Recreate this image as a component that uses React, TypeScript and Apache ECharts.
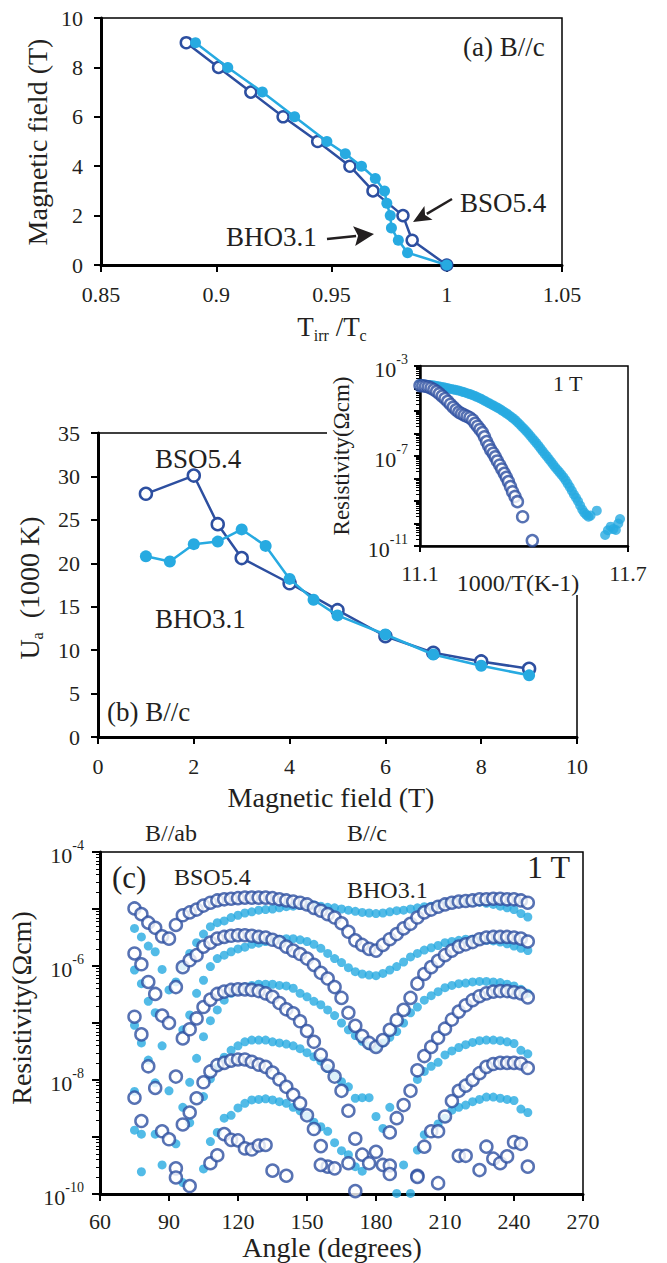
import React, { useEffect, useRef } from 'react';
import * as echarts from 'echarts';

const FONT = 'Liberation Serif';
const DARK = '#2D4FA0';
const LIGHT = '#27AAE1';
const TXT = '#231F20';

// ---------- Panel (a): field vs Tirr/Tc ----------
const fieldA_bso = [9, 8, 7, 6, 5, 4, 3, 2, 1, 0];
const tirrA_bso = [0.887, 0.901, 0.915, 0.929, 0.944, 0.958, 0.968, 0.981, 0.985, 1.0];
const fieldA_bho = [9, 8, 7, 6, 5, 4.5, 4, 3.5, 3, 2.5, 2, 1.5, 1, 0.5, 0];
const tirrA_bho = [0.891, 0.905, 0.92, 0.934, 0.948, 0.956, 0.963, 0.969, 0.973, 0.974, 0.9755, 0.976, 0.979, 0.983, 1.0];

// ---------- Panel (b): Ua vs field ----------
const fieldB_bso = [1, 2, 2.5, 3, 4, 5, 6, 7, 8, 9];
const uaB_bso = [28, 30.1, 24.5, 20.6, 17.7, 14.6, 11.6, 9.7, 8.7, 7.85];
const fieldB_bho = [1, 1.5, 2, 2.5, 3, 3.5, 4, 4.5, 5, 6, 7, 8, 9];
const uaB_bho = [20.8, 20.2, 22.2, 22.5, 23.9, 22.0, 18.2, 15.8, 14.0, 11.8, 9.5, 8.2, 7.1];

// ---------- Inset: log10 resistivity vs 1000/T ----------
const insetBsoX = [11.1, 11.108, 11.116, 11.124, 11.132, 11.14, 11.148, 11.156, 11.164, 11.172, 11.18, 11.188, 11.196, 11.204, 11.212, 11.22, 11.228, 11.236, 11.244, 11.252, 11.259, 11.266, 11.273, 11.28, 11.286, 11.292, 11.298, 11.304, 11.311, 11.317, 11.323, 11.33, 11.336, 11.343, 11.349, 11.355, 11.361, 11.367, 11.374, 11.381, 11.396, 11.424];
const insetBsoLog = [-3.87, -3.88, -3.9, -3.93, -3.98, -4.05, -4.13, -4.23, -4.34, -4.45, -4.57, -4.7, -4.83, -4.95, -5.05, -5.12, -5.18, -5.24, -5.3, -5.4, -5.55, -5.68, -5.82, -5.96, -6.15, -6.36, -6.55, -6.73, -6.88, -7.04, -7.22, -7.4, -7.58, -7.77, -7.95, -8.14, -8.36, -8.59, -8.8, -9.03, -9.7, -10.76];
const insetBhoX = [11.1, 11.106, 11.112, 11.118, 11.124, 11.13, 11.136, 11.142, 11.148, 11.154, 11.16, 11.166, 11.172, 11.178, 11.184, 11.19, 11.196, 11.202, 11.208, 11.214, 11.22, 11.226, 11.232, 11.238, 11.244, 11.25, 11.256, 11.262, 11.268, 11.274, 11.28, 11.286, 11.292, 11.298, 11.304, 11.31, 11.316, 11.322, 11.328, 11.334, 11.34, 11.346, 11.352, 11.358, 11.364, 11.37, 11.376, 11.382, 11.388, 11.394, 11.4, 11.406, 11.412, 11.418, 11.424, 11.43, 11.436, 11.442, 11.448, 11.454, 11.46, 11.466, 11.472, 11.478, 11.484, 11.49, 11.496, 11.502, 11.508, 11.514, 11.52, 11.526, 11.532, 11.538, 11.544, 11.55, 11.556, 11.562, 11.568, 11.574, 11.58, 11.586, 11.592, 11.61, 11.634, 11.642, 11.65, 11.658, 11.665, 11.672, 11.677];
const insetBhoLog = [-3.8, -3.81, -3.82, -3.83, -3.84, -3.85, -3.86, -3.87, -3.89, -3.9, -3.92, -3.94, -3.96, -3.98, -4.0, -4.02, -4.04, -4.06, -4.08, -4.1, -4.13, -4.16, -4.19, -4.22, -4.25, -4.28, -4.32, -4.36, -4.4, -4.44, -4.49, -4.54, -4.59, -4.64, -4.69, -4.74, -4.79, -4.84, -4.89, -4.95, -5.01, -5.07, -5.13, -5.2, -5.27, -5.34, -5.42, -5.51, -5.6, -5.7, -5.79, -5.89, -5.99, -6.1, -6.21, -6.32, -6.43, -6.55, -6.67, -6.79, -6.91, -7.02, -7.14, -7.26, -7.38, -7.5, -7.61, -7.72, -7.83, -7.95, -8.08, -8.23, -8.38, -8.55, -8.71, -8.86, -9.01, -9.2, -9.38, -9.52, -9.62, -9.7, -9.65, -9.43, -10.51, -10.3, -10.14, -10.25, -10.29, -10.0, -9.8];

// ---------- Panel (c): log10 resistivity vs angle ----------
const angleC = [75, 78, 81, 84, 87, 90, 93, 96, 99, 102, 105, 108, 111, 114, 117, 120, 123, 126, 129, 132, 135, 138, 141, 144, 147, 150, 153, 156, 159, 162, 165, 168, 171, 174, 177, 180, 183, 186, 189, 192, 195, 198, 201, 204, 207, 210, 213, 216, 219, 222, 225, 228, 231, 234, 237, 240, 243, 246];
const bsoC1 = [-4.99, -5.09, -5.24, -5.33, -5.48, -5.52, -5.28, -5.11, -5.06, -5.01, -4.94, -4.89, -4.85, -4.83, -4.82, -4.81, -4.8, -4.8, -4.8, -4.8, -4.81, -4.83, -4.85, -4.87, -4.89, -4.92, -4.98, -5.03, -5.09, -5.15, -5.25, -5.4, -5.55, -5.63, -5.7, -5.73, -5.63, -5.53, -5.44, -5.34, -5.26, -5.15, -5.06, -5.01, -4.96, -4.92, -4.89, -4.87, -4.86, -4.85, -4.83, -4.83, -4.82, -4.82, -4.83, -4.83, -4.85, -4.89];
const bsoC2 = [-5.78, -5.97, -6.28, -6.49, -6.87, -7.0, -6.37, -6.02, -5.9, -5.81, -5.66, -5.59, -5.52, -5.49, -5.47, -5.46, -5.46, -5.47, -5.49, -5.5, -5.54, -5.58, -5.66, -5.73, -5.79, -5.87, -5.98, -6.12, -6.22, -6.37, -6.56, -6.82, -7.05, -7.23, -7.35, -7.42, -7.3, -7.12, -6.95, -6.77, -6.56, -6.31, -6.14, -6.02, -5.91, -5.81, -5.73, -5.66, -5.62, -5.58, -5.53, -5.5, -5.49, -5.49, -5.49, -5.5, -5.52, -5.57];
const bsoC3 = [-6.89, -7.2, -7.76, -8.14, -8.9, -9.04, -7.94, -7.27, -7.11, -6.92, -6.72, -6.59, -6.49, -6.45, -6.42, -6.41, -6.41, -6.42, -6.44, -6.48, -6.54, -6.65, -6.76, -6.83, -6.97, -7.14, -7.33, -7.56, -7.75, -7.94, -8.19, -8.54, -9.03, -9.31, -9.46, -9.26, -9.49, -8.92, -8.67, -8.44, -8.19, -7.83, -7.58, -7.42, -7.26, -7.1, -6.94, -6.8, -6.69, -6.6, -6.53, -6.48, -6.45, -6.44, -6.44, -6.46, -6.48, -6.55];
const bsoC4 = [-8.31, -8.72, null, null, null, null, -9.55, -8.78, -8.57, -8.32, -8.04, -7.85, -7.74, -7.7, -7.66, -7.64, -7.64, -7.68, -7.73, -7.77, -7.87, -7.99, -8.12, -8.26, -8.41, -8.62, -8.86, -9.16, -9.52, -9.55, null, -9.46, -9.95, null, null, null, null, -9.5, null, null, null, -9.68, -9.17, -8.9, -8.9, -8.64, -8.37, -8.19, -8.1, -8.0, -7.88, -7.77, -7.72, -7.7, -7.7, -7.7, -7.71, -7.79];
const bsoC5 = [null, null, null, null, null, null, -9.71, null, -9.86, null, null, -9.46, -9.32, -8.95, -9.05, -9.06, -9.2, -9.22, -9.15, -9.14, -9.59, null, -9.68, null, null, null, null, -9.49, null, null, null, null, null, null, null, null, null, -9.65, null, null, null, -9.7, null, null, -9.81, null, null, -9.33, -9.33, null, -9.58, -9.17, -9.38, -9.46, -9.34, -9.09, -9.12, -9.52];
const bhoC1 = [-5.34, -5.49, -5.65, -5.75, -6.06, -6.42, -6.28, -6.0, -5.78, -5.59, -5.44, -5.31, -5.24, -5.21, -5.15, -5.11, -5.07, -5.05, -5.02, -5.01, -5.0, -4.98, -4.96, -4.95, -4.94, -4.93, -4.93, -4.95, -4.97, -4.98, -5.0, -5.02, -5.04, -5.06, -5.07, -5.08, -5.07, -5.05, -5.03, -5.02, -5.0, -4.98, -4.96, -4.95, -4.93, -4.9, -4.89, -4.87, -4.87, -4.88, -4.88, -4.9, -4.92, -4.95, -4.98, -5.01, -5.08, -5.14];
const bhoC2 = [-6.07, -6.31, -6.62, -6.82, -7.4, -8.19, null, -7.12, -6.86, -6.48, -6.25, -6.01, -5.87, -5.81, -5.75, -5.7, -5.67, -5.62, -5.6, -5.57, -5.55, -5.53, -5.52, -5.52, -5.54, -5.57, -5.62, -5.69, -5.78, -5.87, -5.94, -6.03, -6.1, -6.14, -6.16, -6.17, -6.13, -6.07, -6.01, -5.93, -5.84, -5.78, -5.72, -5.68, -5.64, -5.59, -5.57, -5.55, -5.53, -5.53, -5.53, -5.55, -5.56, -5.58, -5.61, -5.65, -5.69, -5.73];
const bhoC3 = [-7.04, -7.35, -7.65, -8.05, -9.49, null, -9.12, -8.48, -8.04, -7.62, -7.24, -6.96, -6.77, -6.6, -6.48, -6.42, -6.37, -6.34, -6.32, -6.32, -6.32, -6.34, -6.35, -6.39, -6.48, -6.54, -6.62, -6.68, -6.77, -6.87, -7.0, -7.12, -7.22, -7.32, -7.4, -7.43, -7.35, -7.25, -7.15, -7.0, -6.82, -6.72, -6.6, -6.52, -6.45, -6.38, -6.34, -6.31, -6.3, -6.28, -6.27, -6.27, -6.28, -6.29, -6.32, -6.35, -6.41, -6.48];
const bhoC4 = [-8.2, -8.95, null, -8.95, null, null, null, -9.8, -8.75, null, -8.29, -7.98, -7.78, -7.6, -7.48, -7.4, -7.33, -7.3, -7.3, -7.3, -7.33, -7.35, -7.37, -7.4, -7.45, -7.52, -7.59, -7.67, -7.8, -7.93, -8.03, -8.12, -8.32, -8.31, -8.31, -8.64, -8.85, -8.48, null, null, null, -7.99, -7.85, -7.76, -7.69, -7.56, -7.49, -7.43, -7.38, -7.34, -7.31, -7.3, -7.3, -7.31, -7.33, -7.36, -7.48, -7.54];
const bhoC5 = [-8.88, -9.61, null, null, null, null, null, null, null, null, -9.56, -9.08, -8.92, -8.67, -8.62, -8.49, -8.41, -8.35, -8.34, -8.33, -8.35, -8.38, -8.41, -8.48, -8.54, -8.63, -8.74, -8.82, -8.9, -9.1, -9.24, -9.31, -9.52, -9.6, null, null, null, null, -9.99, -9.49, -9.99, -9.23, -8.96, null, -8.77, -8.67, -8.53, -8.48, -8.44, -8.38, -8.34, -8.3, -8.3, -8.32, -8.34, -8.36, -8.51, -8.57];

// ---------- helpers ----------
const zip = (xs: number[], ys: number[]) => xs.map((x, i) => [x, ys[i]]);
const zipLog = (xs: number[], ys: number[]) => xs.map((x, i) => [x, Math.pow(10, ys[i])]);
const curvesToPairs = (curves: (number | null)[][]) => {
  const out: number[][] = [];
  curves.forEach((c) => c.forEach((v, i) => { if (v !== null) out.push([angleC[i], Math.pow(10, v)]); }));
  return out;
};

const tickLabel = { fontFamily: FONT, fontSize: 22, color: TXT };
const axisLineThick = { show: true, lineStyle: { color: '#000', width: 3 } };
const tickOut = { show: true, length: 7, lineStyle: { color: '#000', width: 2 } };
const supRich = {
  b: { fontFamily: FONT, fontSize: 22, color: TXT, lineHeight: 28, verticalAlign: 'bottom' },
  s: { fontFamily: FONT, fontSize: 14, color: TXT, lineHeight: 14, verticalAlign: 'top' },
};
const expOf = (v: number) => Math.round(Math.log10(v));

const openDark = { color: '#fff', borderColor: DARK, borderWidth: 2.5 };
const fillLight = { color: LIGHT };

function text(x: number, y: number, t: string, size: number, opts: any = {}) {
  return {
    type: 'text', x, y, z: opts.z ?? 20, rotation: opts.rotation ?? 0,
    style: {
      text: t, fill: TXT, font: `${size}px ${FONT}`,
      textAlign: opts.align ?? 'left', textVerticalAlign: 'middle',
      rich: opts.rich,
    },
  };
}

function arrow(x1: number, y1: number, tx: number, ty: number, len: number, half: number) {
  const dx = tx - x1, dy = ty - y1;
  const L = Math.sqrt(dx * dx + dy * dy);
  const ux = dx / L, uy = dy / L;
  const bx = tx - ux * len, by = ty - uy * len;
  const px = -uy, py = ux;
  return [
    { type: 'line', z: 20, shape: { x1, y1, x2: bx + ux * 2, y2: by + uy * 2 }, style: { stroke: TXT, lineWidth: 2.5 } },
    { type: 'polygon', z: 20, shape: { points: [[tx, ty], [bx + px * half, by + py * half], [bx + ux * 4, by + uy * 4], [bx - px * half, by - py * half]] }, style: { fill: TXT } },
  ];
}

function buildOption() {
  const subRich = (main: number, sub: number) => ({
    n: { fontFamily: FONT, fontSize: main, fill: TXT, color: TXT, lineHeight: main + 4, verticalAlign: 'top' },
    s: { fontFamily: FONT, fontSize: sub, fill: TXT, color: TXT, lineHeight: sub, padding: [Math.round(main * 0.5), 0, 0, 0], verticalAlign: 'top' },
  });

  return {
    animation: false,
    backgroundColor: '#fff',
    grid: [
      { left: 101, top: 18, width: 461, height: 247, show: true, borderColor: '#000', borderWidth: 1.5, z: 0 },
      { left: 98, top: 433, width: 479, height: 304, show: true, borderColor: '#000', borderWidth: 1.5, z: 0 },
      { left: 420, top: 366, width: 208, height: 180, show: true, borderColor: '#000', borderWidth: 1.5, backgroundColor: '#fff', z: 6 },
      { left: 100, top: 852, width: 483, height: 342, show: true, borderColor: '#000', borderWidth: 1.5, z: 0 },
    ],
    xAxis: [
      { gridIndex: 0, type: 'value', min: 0.85, max: 1.05, interval: 0.05, axisLine: axisLineThick, axisTick: tickOut, splitLine: { show: false }, axisLabel: { ...tickLabel, margin: 18 } },
      { gridIndex: 1, type: 'value', min: 0, max: 10, interval: 2, axisLine: axisLineThick, axisTick: tickOut, splitLine: { show: false }, axisLabel: { ...tickLabel, margin: 18 } },
      { gridIndex: 2, type: 'value', min: 11.1, max: 11.7, interval: 0.6, z: 7, axisLine: { show: true, lineStyle: { color: '#000', width: 2.5 } }, axisTick: { show: true, length: 6, lineStyle: { color: '#000', width: 2 } }, splitLine: { show: false }, axisLabel: { ...tickLabel, margin: 16, formatter: (v: number) => v.toFixed(1) } },
      { gridIndex: 3, type: 'value', min: 60, max: 270, interval: 30, axisLine: axisLineThick, axisTick: tickOut, splitLine: { show: false }, axisLabel: { ...tickLabel, margin: 16 } },
    ],
    yAxis: [
      { gridIndex: 0, type: 'value', min: 0, max: 10, interval: 2, axisLine: axisLineThick, axisTick: tickOut, splitLine: { show: false }, axisLabel: { ...tickLabel, margin: 18 } },
      { gridIndex: 1, type: 'value', min: 0, max: 35, interval: 5, axisLine: axisLineThick, axisTick: tickOut, splitLine: { show: false }, axisLabel: { ...tickLabel, margin: 18 } },
      {
        gridIndex: 2, type: 'log', logBase: 10, min: 1e-11, max: 1e-3, z: 7,
        axisLine: { show: true, lineStyle: { color: '#000', width: 2.5 } },
        axisTick: { show: true, length: 6, lineStyle: { color: '#000', width: 2 } },
        minorTick: { show: true, splitNumber: 9, length: 4, lineStyle: { color: '#000', width: 1 } },
        splitLine: { show: false }, minorSplitLine: { show: false },
        axisLabel: {
          margin: 12, rich: supRich,
          formatter: (v: number) => { const e = expOf(v); return (e + 3) % 4 === 0 ? `{b|10}{s|${e}}` : ''; },
        },
      },
      {
        gridIndex: 3, type: 'log', logBase: 10, min: 1e-10, max: 1e-4,
        axisLine: axisLineThick,
        axisTick: { show: true, length: 8, lineStyle: { color: '#000', width: 2 } },
        minorTick: { show: true, splitNumber: 9, length: 4, lineStyle: { color: '#000', width: 1 } },
        splitLine: { show: false }, minorSplitLine: { show: false },
        axisLabel: {
          margin: 16, rich: supRich,
          formatter: (v: number) => { const e = expOf(v); return e % 2 === 0 ? `{b|10}{s|${e}}` : ''; },
        },
      },
    ],
    series: [
      // panel (a)
      { name: 'BSO5.4', type: 'line', xAxisIndex: 0, yAxisIndex: 0, data: zip(tirrA_bso, fieldA_bso), symbol: 'circle', symbolSize: 11, itemStyle: openDark, lineStyle: { color: DARK, width: 2.5 }, z: 2 },
      { name: 'BHO3.1', type: 'line', xAxisIndex: 0, yAxisIndex: 0, data: zip(tirrA_bho, fieldA_bho), symbol: 'circle', symbolSize: 11, itemStyle: fillLight, lineStyle: { color: LIGHT, width: 2.5 }, z: 3 },
      // panel (b)
      { name: 'BSO5.4 Ua', type: 'line', xAxisIndex: 1, yAxisIndex: 1, data: zip(fieldB_bso, uaB_bso), symbol: 'circle', symbolSize: 12, itemStyle: openDark, lineStyle: { color: DARK, width: 2.5 }, z: 2 },
      { name: 'BHO3.1 Ua', type: 'line', xAxisIndex: 1, yAxisIndex: 1, data: zip(fieldB_bho, uaB_bho), symbol: 'circle', symbolSize: 12, itemStyle: fillLight, lineStyle: { color: LIGHT, width: 2.5 }, z: 3 },
      // inset
      { name: 'BHO3.1 1T', type: 'scatter', xAxisIndex: 2, yAxisIndex: 2, data: zipLog(insetBhoX, insetBhoLog), symbol: 'circle', symbolSize: 10, itemStyle: fillLight, z: 8 },
      { name: 'BSO5.4 1T', type: 'scatter', xAxisIndex: 2, yAxisIndex: 2, data: zipLog(insetBsoX, insetBsoLog), symbol: 'circle', symbolSize: 11, itemStyle: openDark, z: 9 },
      // panel (c)
      { name: 'BHO3.1 angle', type: 'scatter', xAxisIndex: 3, yAxisIndex: 3, data: curvesToPairs([bhoC1, bhoC2, bhoC3, bhoC4, bhoC5]), symbol: 'circle', symbolSize: 9, itemStyle: fillLight, z: 2 },
      { name: 'BSO5.4 angle', type: 'scatter', xAxisIndex: 3, yAxisIndex: 3, data: curvesToPairs([bsoC1, bsoC2, bsoC3, bsoC4, bsoC5]), symbol: 'circle', symbolSize: 12, itemStyle: openDark, z: 3 },
    ],
    graphic: [
      // panel (a)
      text(37, 142, 'Magnetic field (T)', 28, { align: 'center', rotation: Math.PI / 2 }),
      text(332, 329, '{n|T}{s|irr}{n| /T}{s|c}', 27, { align: 'center', rich: subRich(27, 16) }),
      text(463, 47, '(a) B//c', 27),
      text(460, 203, 'BSO5.4', 27),
      text(226, 237, 'BHO3.1', 27),
      ...arrow(452, 199, 413, 222, 18, 8),
      ...arrow(327, 239, 374, 234, 20, 10),
      // inset background
      { type: 'rect', z: 5, shape: { x: 327, y: 350, width: 340, height: 245 }, style: { fill: '#fff' } },
      // panel (b)
      text(31, 588, '{n|U}{s|a}{n|  (1000 K)}', 28, { align: 'center', rotation: Math.PI / 2, rich: subRich(28, 16) }),
      text(331, 797, 'Magnetic field (T)', 28, { align: 'center' }),
      text(155, 459, 'BSO5.4', 27),
      text(155, 619, 'BHO3.1', 27),
      text(107, 712, '(b) B//c', 27),
      // inset texts
      text(341, 456, 'Resistivity(\u03A9cm)', 23, { align: 'center', rotation: Math.PI / 2 }),
      text(518, 583, '1000/T(K-1)', 24, { align: 'center' }),
      text(553, 383, '1 T', 22),
      // panel (c)
      text(171, 833, 'B//ab', 24, { align: 'center' }),
      text(367, 833, 'B//c', 24, { align: 'center' }),
      text(112, 877, '(c)', 31),
      text(174, 877, 'BSO5.4', 24),
      text(347, 890, 'BHO3.1', 24),
      text(527, 867, '1 T', 32),
      text(21, 1008, 'Resistivity(\u03A9cm)', 28, { align: 'center', rotation: Math.PI / 2 }),
      text(332, 1247, 'Angle (degrees)', 28, { align: 'center' }),
    ],
  };
}

export default function App() {
  const ref = useRef<HTMLDivElement>(null);
  useEffect(() => {
    if (!ref.current) return;
    const chart = echarts.init(ref.current, undefined, { renderer: 'svg' });
    chart.setOption(buildOption() as any);
    return () => chart.dispose();
  }, []);
  return <div ref={ref} style={{ position: 'absolute', left: 0, top: 0, width: 667, height: 1263, background: '#fff' }} />;
}
